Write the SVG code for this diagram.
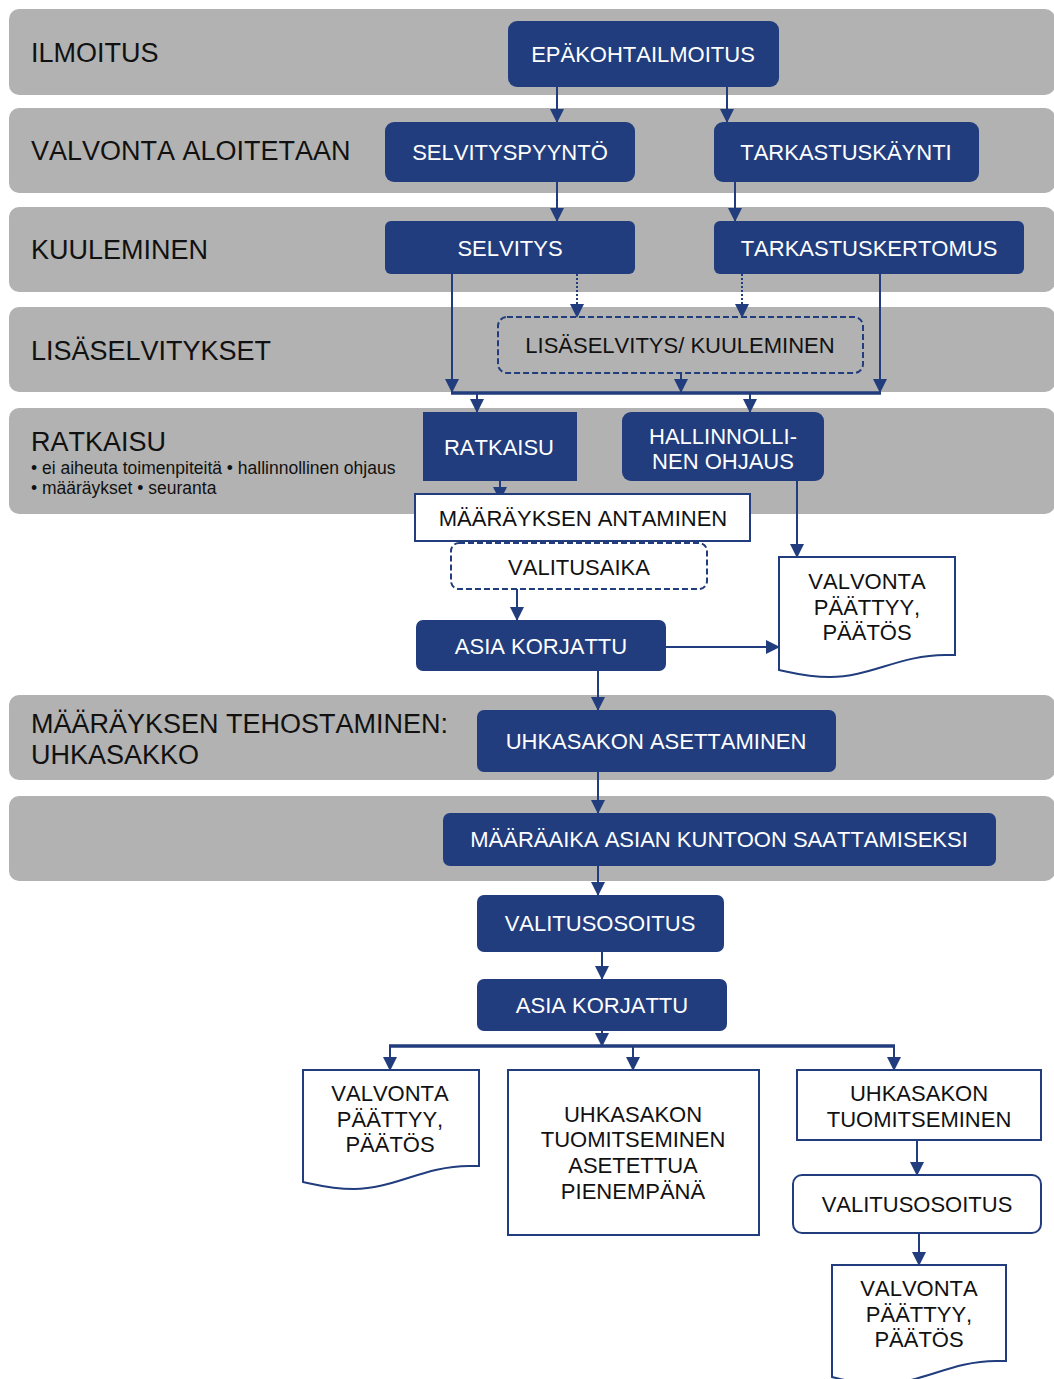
<svg xmlns="http://www.w3.org/2000/svg" width="1054" height="1379" viewBox="0 0 1054 1379">
<style>
text{font-kerning:none}
.band{fill:#b2b2b2}
.lbl{font-family:"Liberation Sans",Arial,sans-serif;font-size:27px;fill:#111}
.sub{font-family:"Liberation Sans",Arial,sans-serif;font-size:17.5px;fill:#111}
.nb{fill:#213d7e}
.wt{font-family:"Liberation Sans",Arial,sans-serif;font-size:22px;fill:#fff;text-anchor:middle}
.bt{font-family:"Liberation Sans",Arial,sans-serif;font-size:22px;fill:#111;text-anchor:middle}
.wb{fill:#fff;stroke:#213d7e;stroke-width:2}
.dash{fill:none;stroke:#213d7e;stroke-width:2;stroke-dasharray:6,3}
.c{fill:none;stroke:#213d7e;stroke-width:2}
.cb{fill:none;stroke:#213d7e;stroke-width:3.5}
.dot{fill:none;stroke:#213d7e;stroke-width:2;stroke-dasharray:2,2}
</style>
<defs>
<marker id="ah" markerUnits="userSpaceOnUse" markerWidth="14" markerHeight="14" viewBox="0 0 14 14" refX="13" refY="7" orient="auto">
<path d="M0,0 L14,7 L0,14 Z" fill="#213d7e"/>
</marker>
</defs>
<g id="bands">
<rect class="band" x="9" y="9" width="1046" height="86" rx="10"/>
<rect class="band" x="9" y="108" width="1046" height="85" rx="10"/>
<rect class="band" x="9" y="207" width="1046" height="85" rx="10"/>
<rect class="band" x="9" y="307" width="1046" height="85" rx="10"/>
<rect class="band" x="9" y="408" width="1046" height="106" rx="10"/>
<rect class="band" x="9" y="695" width="1046" height="85" rx="10"/>
<rect class="band" x="9" y="796" width="1046" height="85" rx="10"/>
<text class="lbl" x="31" y="62">ILMOITUS</text>
<text class="lbl" x="31" y="160">VALVONTA ALOITETAAN</text>
<text class="lbl" x="31" y="259">KUULEMINEN</text>
<text class="lbl" x="31" y="360">LISÄSELVITYKSET</text>
<text class="lbl" x="31" y="451">RATKAISU</text>
<text class="sub" x="31" y="474">• ei aiheuta toimenpiteitä • hallinnollinen ohjaus</text>
<text class="sub" x="31" y="494">• määräykset • seuranta</text>
<text class="lbl" x="31" y="733">MÄÄRÄYKSEN TEHOSTAMINEN:</text>
<text class="lbl" x="31" y="764">UHKASAKKO</text>
</g>
<g id="connectors">
<line class="c" x1="557" y1="87" x2="557" y2="122" marker-end="url(#ah)"/>
<line class="c" x1="727" y1="87" x2="727" y2="122" marker-end="url(#ah)"/>
<line class="c" x1="557" y1="182" x2="557" y2="221" marker-end="url(#ah)"/>
<line class="c" x1="735" y1="182" x2="735" y2="221" marker-end="url(#ah)"/>
<line class="c" x1="452" y1="274" x2="452" y2="392" marker-end="url(#ah)"/>
<line class="dot" x1="577" y1="274" x2="577" y2="317" marker-end="url(#ah)"/>
<line class="dot" x1="742" y1="274" x2="742" y2="317" marker-end="url(#ah)"/>
<line class="c" x1="880" y1="274" x2="880" y2="392" marker-end="url(#ah)"/>
<line class="c" x1="681" y1="373" x2="681" y2="392" marker-end="url(#ah)"/>
<line class="cb" x1="451" y1="393" x2="881" y2="393"/>
<line class="c" x1="477" y1="393" x2="477" y2="412" marker-end="url(#ah)"/>
<line class="c" x1="750" y1="393" x2="750" y2="412" marker-end="url(#ah)"/>
<line class="c" x1="500" y1="481" x2="500" y2="500" marker-end="url(#ah)"/>
<line class="c" x1="797" y1="481" x2="797" y2="557" marker-end="url(#ah)"/>
<line class="c" x1="517" y1="589" x2="517" y2="620" marker-end="url(#ah)"/>
<line class="c" x1="666" y1="647" x2="779" y2="647" marker-end="url(#ah)"/>
<line class="c" x1="598" y1="671" x2="598" y2="710" marker-end="url(#ah)"/>
<line class="c" x1="598" y1="772" x2="598" y2="813" marker-end="url(#ah)"/>
<line class="c" x1="598" y1="866" x2="598" y2="895" marker-end="url(#ah)"/>
<line class="c" x1="602" y1="952" x2="602" y2="979" marker-end="url(#ah)"/>
<line class="c" x1="602" y1="1031" x2="602" y2="1046" marker-end="url(#ah)"/>
<line class="cb" x1="389" y1="1046" x2="895" y2="1046"/>
<line class="c" x1="390" y1="1046" x2="390" y2="1070" marker-end="url(#ah)"/>
<line class="c" x1="633" y1="1046" x2="633" y2="1070" marker-end="url(#ah)"/>
<line class="c" x1="894" y1="1046" x2="894" y2="1070" marker-end="url(#ah)"/>
<line class="c" x1="917" y1="1140" x2="917" y2="1175" marker-end="url(#ah)"/>
<line class="c" x1="919" y1="1233" x2="919" y2="1265" marker-end="url(#ah)"/>
</g>
<g id="n-epakohta">
<rect class="nb" x="508" y="21" width="271" height="66" rx="9"/>
<text class="wt" x="643" y="62">EPÄKOHTAILMOITUS</text>
</g>
<g id="n-selvityspyynto">
<rect class="nb" x="385" y="122" width="250" height="60" rx="9"/>
<text class="wt" x="510" y="160">SELVITYSPYYNTÖ</text>
</g>
<g id="n-tarkastuskaynti">
<rect class="nb" x="714" y="122" width="265" height="60" rx="9"/>
<text class="wt" x="846" y="160">TARKASTUSKÄYNTI</text>
</g>
<g id="n-selvitys">
<rect class="nb" x="385" y="221" width="250" height="53" rx="6"/>
<text class="wt" x="510" y="256">SELVITYS</text>
</g>
<g id="n-tarkastuskertomus">
<rect class="nb" x="714" y="221" width="310" height="53" rx="6"/>
<text class="wt" x="869" y="256">TARKASTUSKERTOMUS</text>
</g>
<g id="n-lisaselvitys">
<rect class="dash" x="498" y="317" width="365" height="56" rx="9"/>
<text class="bt" x="680" y="353">LISÄSELVITYS/ KUULEMINEN</text>
</g>
<g id="n-ratkaisu">
<rect class="nb" x="423" y="412" width="154" height="69"/>
<text class="wt" x="499" y="455">RATKAISU</text>
</g>
<g id="n-hallinnollinen">
<rect class="nb" x="622" y="412" width="202" height="69" rx="9"/>
<text class="wt" x="723" y="444">HALLINNOLLI-</text>
<text class="wt" x="723" y="469">NEN OHJAUS</text>
</g>
<g id="n-maarayksen">
<rect class="wb" x="415" y="494" width="335" height="47"/>
<text class="bt" x="583" y="526">MÄÄRÄYKSEN ANTAMINEN</text>
</g>
<g id="n-valitusaika">
<rect class="dash" x="451" y="543" width="256" height="46" rx="8"/>
<text class="bt" x="579" y="575">VALITUSAIKA</text>
</g>
<g id="n-doc1">
<path class="wb" d="M779,557 H955 V655 H945 C900,655 870,677 830,677 C805,677 790,672 779,670 Z"/>
<text class="bt" x="867" y="589">VALVONTA</text>
<text class="bt" x="867" y="615">PÄÄTTYY,</text>
<text class="bt" x="867" y="640">PÄÄTÖS</text>
</g>
<g id="n-asiakorjattu1">
<rect class="nb" x="416" y="620" width="250" height="51" rx="7"/>
<text class="wt" x="541" y="654">ASIA KORJATTU</text>
</g>
<g id="n-uhkasakon-asettaminen">
<rect class="nb" x="477" y="710" width="359" height="62" rx="7"/>
<text class="wt" x="656" y="749">UHKASAKON ASETTAMINEN</text>
</g>
<g id="n-maaraaika">
<rect class="nb" x="443" y="813" width="553" height="53" rx="7"/>
<text class="wt" x="719" y="847">MÄÄRÄAIKA ASIAN KUNTOON SAATTAMISEKSI</text>
</g>
<g id="n-valitusosoitus1">
<rect class="nb" x="477" y="895" width="247" height="57" rx="7"/>
<text class="wt" x="600" y="931">VALITUSOSOITUS</text>
</g>
<g id="n-asiakorjattu2">
<rect class="nb" x="477" y="979" width="250" height="52" rx="7"/>
<text class="wt" x="602" y="1013">ASIA KORJATTU</text>
</g>
<g id="n-doc2">
<path class="wb" d="M303,1070 H479 V1166 H469 C424,1166 394,1189 354,1189 C329,1189 314,1184 303,1182 Z"/>
<text class="bt" x="390" y="1101">VALVONTA</text>
<text class="bt" x="390" y="1127">PÄÄTTYY,</text>
<text class="bt" x="390" y="1152">PÄÄTÖS</text>
</g>
<g id="n-pienempana">
<rect class="wb" x="508" y="1070" width="251" height="165"/>
<text class="bt" x="633" y="1122">UHKASAKON</text>
<text class="bt" x="633" y="1147">TUOMITSEMINEN</text>
<text class="bt" x="633" y="1173">ASETETTUA</text>
<text class="bt" x="633" y="1199">PIENEMPÄNÄ</text>
</g>
<g id="n-tuomitseminen">
<rect class="wb" x="797" y="1070" width="244" height="70"/>
<text class="bt" x="919" y="1101">UHKASAKON</text>
<text class="bt" x="919" y="1127">TUOMITSEMINEN</text>
</g>
<g id="n-valitusosoitus2">
<rect class="wb" x="793" y="1175" width="248" height="58" rx="9"/>
<text class="bt" x="917" y="1212">VALITUSOSOITUS</text>
</g>
<g id="n-doc3">
<path class="wb" d="M832,1265 H1006 V1361 H996 C951,1361 921,1384 881,1384 C856,1384 841,1379 832,1377 Z"/>
<text class="bt" x="919" y="1296">VALVONTA</text>
<text class="bt" x="919" y="1322">PÄÄTTYY,</text>
<text class="bt" x="919" y="1347">PÄÄTÖS</text>
</g>
</svg>
